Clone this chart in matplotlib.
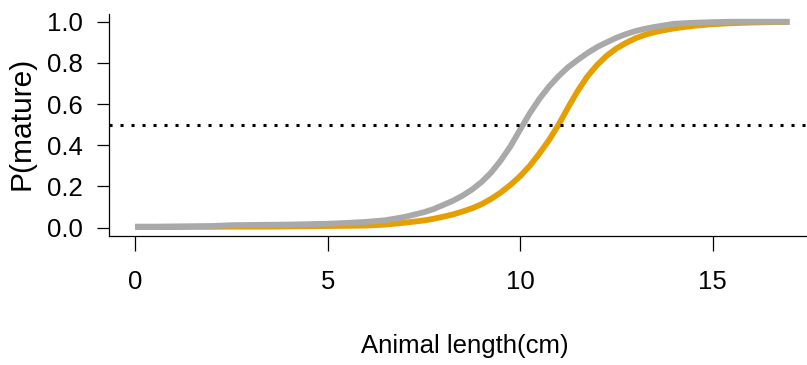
import matplotlib
matplotlib.use("Agg")
import matplotlib.pyplot as plt

plt.rcParams['font.family'] = ['Liberation Sans', 'DejaVu Sans']

length = [0, 0.5, 1, 1.5, 2, 2.5, 3, 3.5, 4, 4.5, 5, 5.5, 6, 6.5, 7, 7.5,
          7.75, 8, 8.25, 8.5, 8.75, 9, 9.25, 9.5, 9.75, 10, 10.25, 10.5, 10.75,
          11, 11.25, 11.5, 11.75, 12, 12.25, 12.5, 12.75, 13, 13.25, 13.5,
          14, 14.5, 15, 15.5, 16, 16.5, 17]

# orange curve (L50 ~ 11)
p_orange = [0.003, 0.003, 0.003, 0.004, 0.004, 0.005, 0.005, 0.005, 0.006, 0.007, 0.008,
            0.009, 0.010, 0.015, 0.024, 0.035,
            0.043, 0.053, 0.064, 0.078, 0.094, 0.114, 0.140, 0.171, 0.208, 0.250, 0.300,
            0.360, 0.425, 0.500, 0.585, 0.665, 0.735, 0.790, 0.835, 0.870, 0.897, 0.920,
            0.937, 0.950,
            0.968, 0.980, 0.988, 0.993, 0.996, 0.998, 0.999]

# grey curve (L50 ~ 10)
p_grey = [0.005, 0.005, 0.006, 0.007, 0.008, 0.012, 0.013, 0.014, 0.015, 0.017, 0.019,
          0.023, 0.028, 0.036, 0.052, 0.075,
          0.090, 0.110, 0.130, 0.155, 0.185, 0.222, 0.268, 0.327, 0.395, 0.476, 0.555,
          0.625, 0.685, 0.736, 0.780, 0.815, 0.848, 0.877, 0.900, 0.922, 0.940, 0.955,
          0.966, 0.975,
          0.990, 0.995, 0.998, 1.0, 1.0, 1.0, 1.0]

x_ticks = [0, 5, 10, 15]
y_ticks = [0.0, 0.2, 0.4, 0.6, 0.8, 1.0]
y_tick_labels = ['0.0', '0.2', '0.4', '0.6', '0.8', '1.0']

fig = plt.figure(figsize=(8.07, 3.65), dpi=100)
ax = fig.add_axes([0.1351, 0.3537, 0.8757, 0.6093])

ax.plot(length, p_orange, color='#E69F00', lw=4.2, solid_capstyle='butt',
        solid_joinstyle='round', zorder=2)
ax.plot(length, p_grey, color='#A9A9A9', lw=4.2, solid_capstyle='butt',
        solid_joinstyle='round', zorder=3)
ax.axhline(0.5, color='black', lw=2.2, linestyle=(0, (1, 2.6)), zorder=4)

ax.set_xlim(-0.68, 17.68)
ax.set_ylim(-0.04, 1.04)
ax.set_xticks(x_ticks)
ax.set_xticklabels([str(t) for t in x_ticks])
ax.set_yticks(y_ticks)
ax.set_yticklabels(y_tick_labels)

for s in ['top', 'right']:
    ax.spines[s].set_visible(False)
for s in ['left', 'bottom']:
    ax.spines[s].set_linewidth(0.9)
    ax.spines[s].set_color('black')

ax.tick_params(axis='x', length=10.8, width=0.9, pad=14, labelsize=18.5)
ax.tick_params(axis='y', length=8.6, width=0.9, pad=10, labelsize=18.5)

fig.text(465 / 807, (365 - 353) / 365, 'Animal length(cm)', ha='center', va='baseline',
         fontsize=18.5)
fig.text(22 / 807, (365 - 123.5) / 365, 'P(mature)', ha='center', va='center',
         rotation=90, fontsize=21.5)

fig.savefig('out.png', dpi=100)
